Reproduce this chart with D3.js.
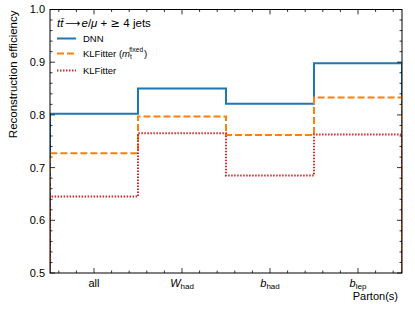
<!DOCTYPE html>
<html>
<head>
<meta charset="utf-8">
<script src="https://cdn.jsdelivr.net/npm/d3@7"></script>
<style>
  body { margin: 0; background: #fff; }
  text { font-family: "Liberation Sans", Arial, sans-serif; fill: #000; }
</style>
</head>
<body>
<svg id="chart" width="415" height="311"></svg>
<script>
// partons on the x axis
var partons = ["all", "W", "b", "b"];
var partonSubs = ["", "had", "had", "lep"];
var partonItalic = [false, true, true, true];

// reconstruction efficiencies per parton
var dnnValues = [0.802, 0.850, 0.821, 0.898];
var klfFixedValues = [0.727, 0.797, 0.762, 0.833];
var klfValues = [0.645, 0.765, 0.685, 0.763];

var yTicks = [0.5, 0.6, 0.7, 0.8, 0.9, 1.0];

var series = [
    {name: "DNN", values: dnnValues, color: "#1f77b4", dash: null},
    {name: "KLFitter (", values: klfFixedValues, color: "#ff7f0e", dash: "7,3"},
    {name: "KLFitter", values: klfValues, color: "#d62728", dash: "1.5,1.5"}
];

var margin = {top: 9.5, right: 13, bottom: 38, left: 50};
var width = 415 - margin.left - margin.right,
    height = 311 - margin.top - margin.bottom;

var svg = d3.select("#chart");
var g = svg.append("g")
    .attr("transform", "translate(" + margin.left + "," + margin.top + ")");

var x = d3.scaleLinear().domain([0, partons.length]).range([0, width]);
var y = d3.scaleLinear().domain([0.5, 1.0]).range([height, 0]);

// step lines, histogram style
var line = d3.line().x(function(d) { return x(d[0]); }).y(function(d) { return y(d[1]); });

function stepPoints(vals) {
    var pts = [[0, 0.5]];
    vals.forEach(function(v, i) {
        pts.push([i, v]);
        pts.push([i + 1, v]);
    });
    pts.push([vals.length, 0.5]);
    return pts;
}

g.append("defs").append("clipPath").attr("id", "clip")
    .append("rect").attr("width", width).attr("height", height);

g.selectAll(".step").data(series).enter().append("path")
    .attr("class", "step")
    .attr("clip-path", "url(#clip)")
    .attr("d", function(d) { return line(stepPoints(d.values)); })
    .attr("fill", "none")
    .attr("stroke", function(d) { return d.color; })
    .attr("stroke-width", 2)
    .attr("stroke-dasharray", function(d) { return d.dash; });

// frame
g.append("rect")
    .attr("width", width).attr("height", height)
    .attr("fill", "none").attr("stroke", "#000").attr("stroke-width", 1);

// ticks on all four sides, pointing inward
var xMajor = d3.range(partons.length).map(function(i) { return i + 0.5; });
var xMinor = d3.range(0.1, partons.length, 0.2).filter(function(v) {
    return Math.abs((v - 0.5) % 1) > 0.01;
});
var yMinor = d3.range(0.52, 1.0, 0.02).filter(function(v) {
    return Math.abs(Math.round(v * 10) - v * 10) > 0.01;
});

var ticks = g.append("g").attr("stroke", "#000").attr("stroke-width", 0.8);
function hTick(v, len) {
    ticks.append("line").attr("x1", x(v)).attr("x2", x(v)).attr("y1", height).attr("y2", height - len);
    ticks.append("line").attr("x1", x(v)).attr("x2", x(v)).attr("y1", 0).attr("y2", len);
}
function vTick(v, len) {
    ticks.append("line").attr("y1", y(v)).attr("y2", y(v)).attr("x1", 0).attr("x2", len);
    ticks.append("line").attr("y1", y(v)).attr("y2", y(v)).attr("x1", width).attr("x2", width - len);
}
xMajor.forEach(function(v) { hTick(v, 5); });
xMinor.forEach(function(v) { hTick(v, 2.5); });
yTicks.forEach(function(v) { vTick(v, 5); });
yMinor.forEach(function(v) { vTick(v, 2.5); });

// y tick labels
g.selectAll(".ylab").data(yTicks).enter().append("text")
    .attr("x", -5)
    .attr("y", function(d) { return y(d); })
    .attr("dy", "0.36em")
    .attr("text-anchor", "end")
    .style("font-size", "11px")
    .text(function(d) { return d.toFixed(1); });

// x tick labels with subscripts
var xl = g.selectAll(".xlab").data(partons).enter().append("text")
    .attr("x", function(d, i) { return x(i + 0.5); })
    .attr("y", height + 13.5)
    .attr("text-anchor", "middle")
    .style("font-size", "11px");
xl.append("tspan")
    .style("font-style", function(d, i) { return partonItalic[i] ? "italic" : "normal"; })
    .text(function(d) { return d; });
xl.append("tspan")
    .attr("dy", 2.5)
    .style("font-size", "8px")
    .text(function(d, i) { return partonSubs[i]; });

// axis titles
g.append("text")
    .attr("x", width - 4)
    .attr("y", height + 27)
    .attr("text-anchor", "end")
    .style("font-size", "11px")
    .text("Parton(s)");

svg.append("text")
    .attr("transform", "translate(17," + (margin.top + 1) + ") rotate(-90)")
    .attr("text-anchor", "end")
    .style("font-size", "11.5px")
    .text("Reconstruction efficiency");

// legend
var lg = g.append("g").attr("transform", "translate(7,0)");
var title = lg.append("text").attr("x", 0).attr("y", 17.5).style("font-size", "11.5px");
title.append("tspan").style("font-style", "italic").text("t");
title.append("tspan").style("font-style", "italic").text("t\u0304");
title.append("tspan").attr("dx", 1.5).attr("font-family", "DejaVu Sans").style("font-size", "10.5px").text("\u27f6");
title.append("tspan").attr("dx", 1.5).style("font-style", "italic").text("e");
title.append("tspan").text("/");
title.append("tspan").style("font-style", "italic").text("\u03bc");
title.append("tspan").text(" + ");
title.append("tspan").attr("font-family", "DejaVu Sans").text("\u2265");
title.append("tspan").text(" 4 jets");

var rowY = [29, 44, 61];
var items = lg.selectAll(".leg").data(series).enter().append("g")
    .attr("transform", function(d, i) { return "translate(0," + rowY[i] + ")"; });
items.append("line")
    .attr("x1", 0).attr("x2", 19).attr("y1", 0).attr("y2", 0)
    .attr("stroke", function(d) { return d.color; })
    .attr("stroke-width", 2)
    .attr("stroke-dasharray", function(d) { return d.dash; });
var lt = items.append("text")
    .attr("x", 26).attr("y", 0).attr("dy", "0.35em")
    .style("font-size", "9.5px")
    .text(function(d) { return d.name; });
lt.filter(function(d, i) { return i === 1; }).each(function() {
    var t = d3.select(this);
    t.append("tspan").style("font-style", "italic").text("m");
    t.append("tspan").attr("dy", 2).style("font-size", "6.5px").text("t");
    t.append("tspan").attr("dx", -2.5).attr("dy", -7).style("font-size", "6.5px").text("fixed");
    t.append("tspan").attr("dx", 1).attr("dy", 5).text(")");
});
</script>
</body>
</html>
